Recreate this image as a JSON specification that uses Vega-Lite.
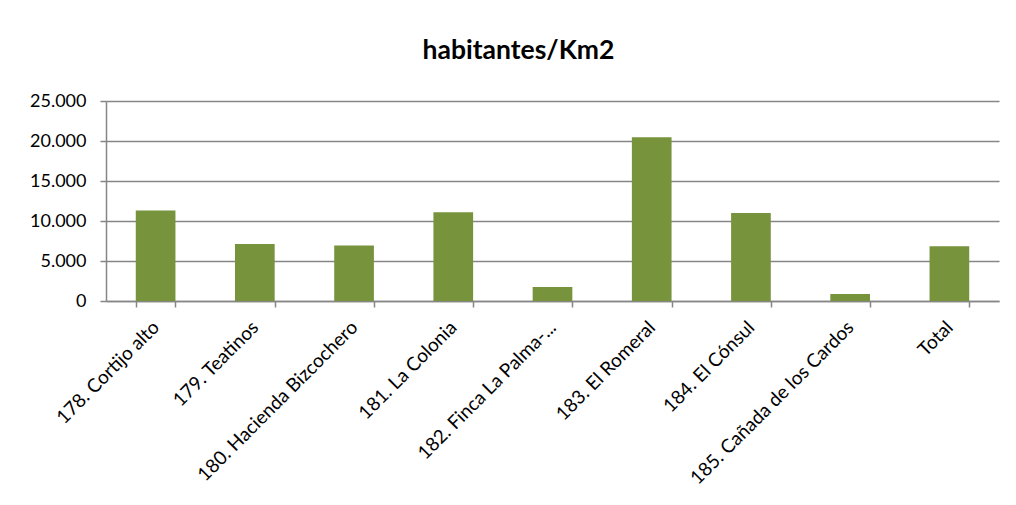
{
  "$schema": "https://vega.github.io/schema/vega-lite/v6.json",
  "width": 893,
  "height": 200,
  "autosize": {"type": "none"},
  "padding": {"left": 106, "top": 101, "right": 17, "bottom": 204},
  "background": "white",
  "title": {
    "text": "habitantes/Km2",
    "font": "Lato",
    "fontSize": 26.5,
    "fontWeight": "bold",
    "color": "#000000",
    "anchor": "middle",
    "baseline": "alphabetic",
    "offset": 44,
    "dy": 37,
    "dx": -34
  },
  "data": {
    "values": [
      {"zona": "178. Cortijo alto", "valor": 11300},
      {"zona": "179. Teatinos", "valor": 7120},
      {"zona": "180. Hacienda Bizcochero", "valor": 6950},
      {"zona": "181. La Colonia", "valor": 11090},
      {"zona": "182. Finca La Palma-...", "valor": 1750},
      {"zona": "183. El Romeral", "valor": 20460},
      {"zona": "184. El Cónsul", "valor": 11000},
      {"zona": "185. Cañada de los Cardos", "valor": 880},
      {"zona": "Total", "valor": 6830}
    ]
  },
  "mark": {"type": "bar", "color": "#77933C"},
  "encoding": {
    "x": {
      "field": "zona",
      "type": "nominal",
      "sort": null,
      "scale": {"paddingInner": 0.6, "paddingOuter": 0.3},
      "axis": {
        "title": null,
        "labelAngle": -45,
        "labelAlign": "right",
        "labelBaseline": "middle",
        "labelFont": "Lato",
        "labelFontSize": 19,
        "labelColor": "#000000",
        "labelPadding": 17,
        "labelLimit": 400,
        "tickBand": "extent",
        "tickSize": 6,
        "tickColor": "#868686",
        "domainColor": "#868686",
        "domainWidth": 1.5,
        "tickWidth": 1.5
      }
    },
    "y": {
      "field": "valor",
      "type": "quantitative",
      "scale": {"domain": [0, 25000], "nice": false},
      "axis": {
        "title": null,
        "values": [0, 5000, 10000, 15000, 20000, 25000],
        "labelExpr": "replace(format(datum.value, ','), ',', '.')",
        "labelFont": "Lato",
        "labelFontSize": 18,
        "labelColor": "#000000",
        "labelPadding": 14,
        "tickSize": 6,
        "tickColor": "#868686",
        "tickWidth": 1.5,
        "domainColor": "#868686",
        "domainWidth": 1.5,
        "gridColor": "#868686",
        "gridWidth": 1.5
      }
    }
  },
  "config": {"view": {"stroke": null}}
}
